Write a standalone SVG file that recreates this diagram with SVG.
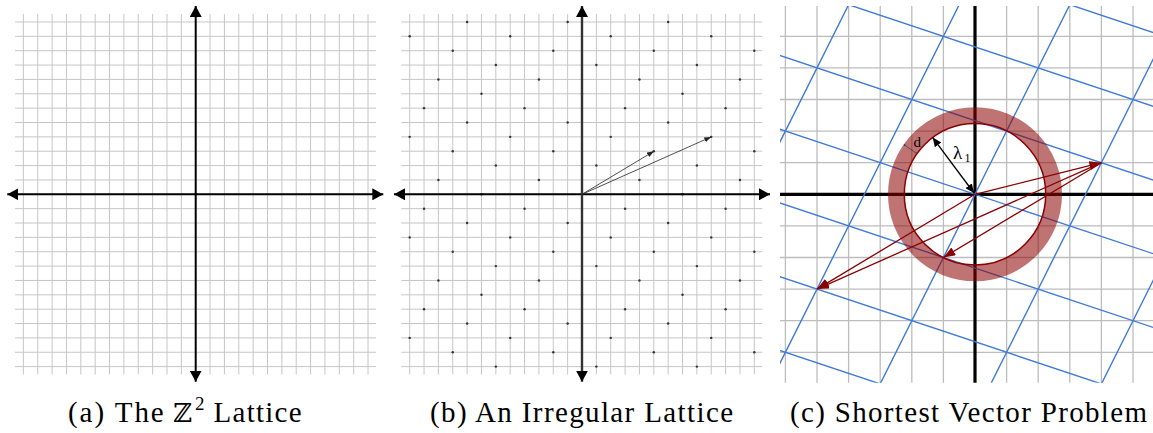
<svg xmlns="http://www.w3.org/2000/svg" width="1153" height="433" viewBox="0 0 1153 433">
<style>
.grid{fill:none;stroke:#c6c6c6;stroke-width:1}
.gridc{fill:none;stroke:#bdbdbd;stroke-width:1.3}
.axis{fill:none;stroke:#000;stroke-width:2}
.axisb{fill:none;stroke:#333;stroke-width:2.4}
.axisc{fill:none;stroke:#000;stroke-width:3.2}
.blue{fill:none;stroke:#3f7ad9;stroke-width:1.4}
.dot{fill:#333}
.vec{fill:none;stroke:#222;stroke-width:0.8}
.red{fill:none;stroke:#8b0000;stroke-width:1.3}
.serif{font-family:"Liberation Serif","Times New Roman",serif;fill:#000}
</style>
<defs>
<marker id="ah" viewBox="0 0 11 12" refX="11" refY="6" markerWidth="11" markerHeight="12" markerUnits="userSpaceOnUse" orient="auto-start-reverse"><path d="M0,0L11,6L0,12z" fill="#000"/></marker>
<marker id="ahs" viewBox="0 0 7 5" refX="7" refY="2.5" markerWidth="7" markerHeight="5" markerUnits="userSpaceOnUse" orient="auto"><path d="M0,0L7,2.5L0,5z" fill="#222"/></marker>
<marker id="ahr" viewBox="0 0 12 9" refX="12" refY="4.5" markerWidth="12" markerHeight="9" markerUnits="userSpaceOnUse" orient="auto"><path d="M0,0L12,4.5L0,9z" fill="#8b0000"/></marker>
<marker id="ahl" viewBox="0 0 9 8" refX="9" refY="4" markerWidth="9" markerHeight="8" markerUnits="userSpaceOnUse" orient="auto-start-reverse"><path d="M0,0L9,4L0,8z" fill="#000"/></marker>
<path id="grid14" d="M-172.32 -180.3V180.2M-157.96 -180.3V180.2M-143.6 -180.3V180.2M-129.24 -180.3V180.2M-114.88 -180.3V180.2M-100.52 -180.3V180.2M-86.16 -180.3V180.2M-71.8 -180.3V180.2M-57.44 -180.3V180.2M-43.08 -180.3V180.2M-28.72 -180.3V180.2M-14.36 -180.3V180.2M0 -180.3V180.2M14.36 -180.3V180.2M28.72 -180.3V180.2M43.08 -180.3V180.2M57.44 -180.3V180.2M71.8 -180.3V180.2M86.16 -180.3V180.2M100.52 -180.3V180.2M114.88 -180.3V180.2M129.24 -180.3V180.2M143.6 -180.3V180.2M157.96 -180.3V180.2M172.32 -180.3V180.2M-180.7 -172.32H180.3M-180.7 -157.96H180.3M-180.7 -143.6H180.3M-180.7 -129.24H180.3M-180.7 -114.88H180.3M-180.7 -100.52H180.3M-180.7 -86.16H180.3M-180.7 -71.8H180.3M-180.7 -57.44H180.3M-180.7 -43.08H180.3M-180.7 -28.72H180.3M-180.7 -14.36H180.3M-180.7 0H180.3M-180.7 14.36H180.3M-180.7 28.72H180.3M-180.7 43.08H180.3M-180.7 57.44H180.3M-180.7 71.8H180.3M-180.7 86.16H180.3M-180.7 100.52H180.3M-180.7 114.88H180.3M-180.7 129.24H180.3M-180.7 143.6H180.3M-180.7 157.96H180.3M-180.7 172.32H180.3"/>
<clipPath id="clipc"><rect x="780" y="6" width="373" height="376.7"/></clipPath>
</defs>

<g id="panel-a">
<use href="#grid14" class="grid" transform="translate(195.7 194.3)"/>
<g id="axes-a">
<line class="axis" x1="7.3" y1="194.3" x2="383.3" y2="194.3" marker-start="url(#ah)" marker-end="url(#ah)"/>
<line class="axis" x1="195.7" y1="6" x2="195.7" y2="381.7" marker-start="url(#ah)" marker-end="url(#ah)"/>
</g>
<g id="caption-a" class="serif" font-size="29">
<text x="68" y="422" textLength="95.7" lengthAdjust="spacing">(a) The</text>
<text x="173.3" y="422" font-family="DejaVu Serif, DejaVu Sans, serif" font-size="26">ℤ</text>
<text x="195" y="410" font-size="19">2</text>
<text x="213.6" y="422" textLength="88" lengthAdjust="spacing">Lattice</text>
</g>
</g>

<g id="panel-b">
<use href="#grid14" class="grid" transform="translate(582 194.3)"/>
<g id="dots-b" class="dot" transform="translate(582 194.3) scale(14.36 -14.36)">
<circle cx="-8" cy="12" r=".085"/><circle cx="-1" cy="12" r=".085"/><circle cx="6" cy="12" r=".085"/>
<circle cx="-12" cy="11" r=".085"/><circle cx="-5" cy="11" r=".085"/><circle cx="2" cy="11" r=".085"/><circle cx="9" cy="11" r=".085"/>
<circle cx="-9" cy="10" r=".085"/><circle cx="-2" cy="10" r=".085"/><circle cx="5" cy="10" r=".085"/><circle cx="12" cy="10" r=".085"/>
<circle cx="-6" cy="9" r=".085"/><circle cx="1" cy="9" r=".085"/><circle cx="8" cy="9" r=".085"/>
<circle cx="-10" cy="8" r=".085"/><circle cx="-3" cy="8" r=".085"/><circle cx="4" cy="8" r=".085"/><circle cx="11" cy="8" r=".085"/>
<circle cx="-7" cy="7" r=".085"/><circle cx="0" cy="7" r=".085"/><circle cx="7" cy="7" r=".085"/>
<circle cx="-11" cy="6" r=".085"/><circle cx="-4" cy="6" r=".085"/><circle cx="3" cy="6" r=".085"/><circle cx="10" cy="6" r=".085"/>
<circle cx="-8" cy="5" r=".085"/><circle cx="-1" cy="5" r=".085"/><circle cx="6" cy="5" r=".085"/>
<circle cx="-12" cy="4" r=".085"/><circle cx="-5" cy="4" r=".085"/><circle cx="2" cy="4" r=".085"/><circle cx="9" cy="4" r=".085"/>
<circle cx="-9" cy="3" r=".085"/><circle cx="-2" cy="3" r=".085"/><circle cx="5" cy="3" r=".085"/><circle cx="12" cy="3" r=".085"/>
<circle cx="-6" cy="2" r=".085"/><circle cx="1" cy="2" r=".085"/><circle cx="8" cy="2" r=".085"/>
<circle cx="-10" cy="1" r=".085"/><circle cx="-3" cy="1" r=".085"/><circle cx="4" cy="1" r=".085"/><circle cx="11" cy="1" r=".085"/>
<circle cx="-7" cy="0" r=".085"/><circle cx="0" cy="0" r=".085"/><circle cx="7" cy="0" r=".085"/>
<circle cx="-11" cy="-1" r=".085"/><circle cx="-4" cy="-1" r=".085"/><circle cx="3" cy="-1" r=".085"/><circle cx="10" cy="-1" r=".085"/>
<circle cx="-8" cy="-2" r=".085"/><circle cx="-1" cy="-2" r=".085"/><circle cx="6" cy="-2" r=".085"/>
<circle cx="-12" cy="-3" r=".085"/><circle cx="-5" cy="-3" r=".085"/><circle cx="2" cy="-3" r=".085"/><circle cx="9" cy="-3" r=".085"/>
<circle cx="-9" cy="-4" r=".085"/><circle cx="-2" cy="-4" r=".085"/><circle cx="5" cy="-4" r=".085"/><circle cx="12" cy="-4" r=".085"/>
<circle cx="-6" cy="-5" r=".085"/><circle cx="1" cy="-5" r=".085"/><circle cx="8" cy="-5" r=".085"/>
<circle cx="-10" cy="-6" r=".085"/><circle cx="-3" cy="-6" r=".085"/><circle cx="4" cy="-6" r=".085"/><circle cx="11" cy="-6" r=".085"/>
<circle cx="-7" cy="-7" r=".085"/><circle cx="0" cy="-7" r=".085"/><circle cx="7" cy="-7" r=".085"/>
<circle cx="-11" cy="-8" r=".085"/><circle cx="-4" cy="-8" r=".085"/><circle cx="3" cy="-8" r=".085"/><circle cx="10" cy="-8" r=".085"/>
<circle cx="-8" cy="-9" r=".085"/><circle cx="-1" cy="-9" r=".085"/><circle cx="6" cy="-9" r=".085"/>
<circle cx="-12" cy="-10" r=".085"/><circle cx="-5" cy="-10" r=".085"/><circle cx="2" cy="-10" r=".085"/><circle cx="9" cy="-10" r=".085"/>
<circle cx="-9" cy="-11" r=".085"/><circle cx="-2" cy="-11" r=".085"/><circle cx="5" cy="-11" r=".085"/><circle cx="12" cy="-11" r=".085"/>
<circle cx="-6" cy="-12" r=".085"/><circle cx="1" cy="-12" r=".085"/><circle cx="8" cy="-12" r=".085"/>
</g>
<g id="axes-b">
<line class="axis" x1="394" y1="194.3" x2="770" y2="194.3" marker-start="url(#ah)" marker-end="url(#ah)"/>
<line class="axisb" x1="582" y1="6" x2="582" y2="381.7" marker-start="url(#ah)" marker-end="url(#ah)"/>
</g>
<g id="vectors-b">
<line class="vec" x1="582" y1="194.3" x2="654" y2="151.2" marker-end="url(#ahs)"/>
<line class="vec" x1="582" y1="194.3" x2="711.2" y2="136.9" marker-end="url(#ahs)"/>
</g>
<text id="caption-b" class="serif" x="430" y="422" font-size="29" textLength="303" lengthAdjust="spacing">(b) An Irregular Lattice</text>
</g>

<g id="panel-c">
<path class="gridc" transform="translate(975 194.3)" d="M-189.6 -188.3V188.4M-158 -188.3V188.4M-126.4 -188.3V188.4M-94.8 -188.3V188.4M-63.2 -188.3V188.4M-31.6 -188.3V188.4M31.6 -188.3V188.4M63.2 -188.3V188.4M94.8 -188.3V188.4M126.4 -188.3V188.4M158 -188.3V188.4M-195 -158H178M-195 -126.4H178M-195 -94.8H178M-195 -63.2H178M-195 -31.6H178M-195 31.6H178M-195 63.2H178M-195 94.8H178M-195 126.4H178M-195 158H178"/>
<g id="axes-c">
<line class="axisc" x1="780" y1="194.3" x2="1153" y2="194.3"/>
<line class="axisc" x1="975" y1="6" x2="975" y2="382.7"/>
</g>
<g id="lattice-c" clip-path="url(#clipc)">
<path class="blue" transform="translate(975 194.3)" d="M-252.8 136.93L252.8 305.47M-252.8 63.2L252.8 231.73M-252.8 -10.53L252.8 158M-252.8 -84.27L252.8 84.27M-252.8 -158L252.8 10.53M-252.8 -231.73L252.8 -63.2M-252.8 -305.47L252.8 -136.93M-347.6 252.8L-94.8 -252.8M-237 252.8L15.8 -252.8M-126.4 252.8L126.4 -252.8M-15.8 252.8L237 -252.8M94.8 252.8L347.6 -252.8"/>
</g>
<g id="svp" transform="translate(975 194.3)">
<circle id="ring" cx="0" cy="0" r="78.85" fill="none" stroke="#8b0000" stroke-opacity="0.55" stroke-width="16.3"/>
<circle id="lambda-circle" cx="0" cy="0" r="70.7" fill="none" stroke="#8b0000" stroke-width="1.5"/>
<g id="red-vectors">
<line class="red" x1="0" y1="0" x2="126.4" y2="-31.6" marker-end="url(#ahr)"/>
<line class="red" x1="0" y1="0" x2="-158" y2="94.8" marker-end="url(#ahr)"/>
<line class="red" x1="126.4" y1="-31.6" x2="-158" y2="94.8" marker-end="url(#ahr)"/>
<line class="red" x1="126.4" y1="-31.6" x2="-31.6" y2="63.2" marker-end="url(#ahr)"/>
</g>
<line id="lambda-arrow" x1="-1" y1="-1.3" x2="-42.3" y2="-56.7" stroke="#000" stroke-width="1.3" marker-start="url(#ahl)" marker-end="url(#ahl)"/>
<g id="d-mark" stroke="#444" stroke-width="0.8">
<line x1="-58.6" y1="-41" x2="-70.4" y2="-49.3"/>
<circle cx="-58.6" cy="-41" r="0.9" fill="#444" stroke="none"/>
<circle cx="-70.4" cy="-49.3" r="0.9" fill="#444" stroke="none"/>
</g>
</g>
<g id="labels-c" class="serif">
<text x="913.5" y="147" font-size="15">d</text>
<text x="953" y="159" font-size="19">λ</text>
<text x="964.5" y="162" font-size="12">1</text>
</g>
<text id="caption-c" class="serif" x="790" y="422" font-size="29" textLength="357" lengthAdjust="spacing">(c) Shortest Vector Problem</text>
</g>
</svg>
